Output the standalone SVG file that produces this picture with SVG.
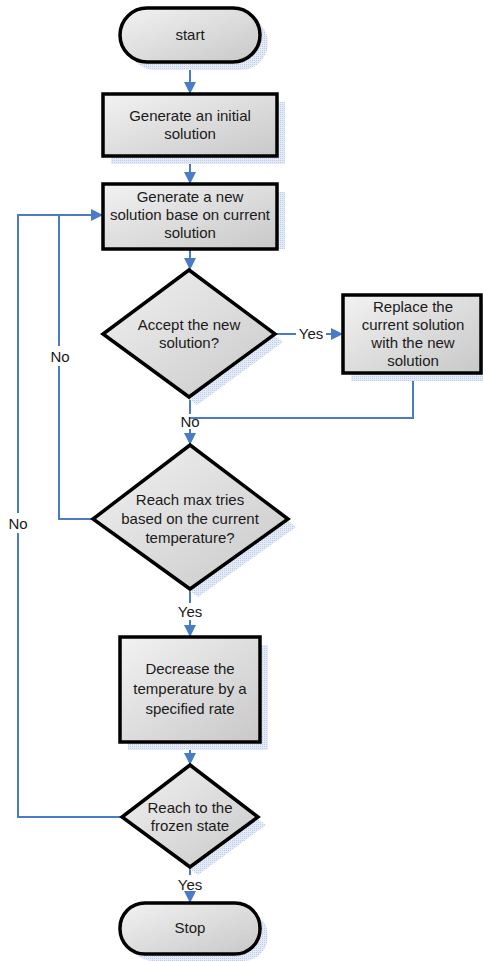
<svg xmlns="http://www.w3.org/2000/svg" width="483" height="961" viewBox="0 0 483 961">
<defs>
<linearGradient id="g" x1="0" y1="0" x2="1" y2="1">
<stop offset="0" stop-color="#f2f2f2"/>
<stop offset="1" stop-color="#c8c8c8"/>
</linearGradient>
<pattern id="sh" width="2" height="2" patternUnits="userSpaceOnUse">
<rect width="2" height="2" fill="#e6ecf7"/>
<rect width="1" height="1" fill="#bccbea"/>
</pattern>
<marker id="ar" markerWidth="12" markerHeight="12" refX="12" refY="6" orient="auto" markerUnits="userSpaceOnUse">
<path d="M0,0 L12,6 L0,12 z" fill="#4a7bc8"/>
</marker>
</defs>
<style>
.sh{fill:url(#sh);stroke:none}
.n{fill:url(#g);stroke:#000;stroke-width:3.5}
.t{font-family:"Liberation Sans",Arial,sans-serif;font-size:15px;fill:#1a1a1a;text-anchor:middle}
.c{fill:none;stroke:#4a7bc8;stroke-width:2}
.l{font-family:"Liberation Sans",Arial,sans-serif;font-size:15px;fill:#1a1a1a;text-anchor:middle}
</style>
<rect width="483" height="961" fill="#fff"/>

<g id="connectors">
<path class="c" d="M190,62 V94" marker-end="url(#ar)"/>
<path class="c" d="M190,156 V184" marker-end="url(#ar)"/>
<path class="c" d="M190,249 V270" marker-end="url(#ar)"/>
<path class="c" d="M275,334 H296"/>
<path class="c" d="M326,334 H343" marker-end="url(#ar)"/>
<path class="c" d="M413,373 V418 H190"/>
<path class="c" d="M190,397 V414"/>
<path class="c" d="M190,429 V445" marker-end="url(#ar)"/>
<path class="c" d="M93,519 H59 V215 H103" marker-end="url(#ar)"/>
<path class="c" d="M190,589 V603"/>
<path class="c" d="M190,620 V637" marker-end="url(#ar)"/>
<path class="c" d="M190,742 V765" marker-end="url(#ar)"/>
<path class="c" d="M122,817 H18 V215 H59"/>
<path class="c" d="M190,867 V875"/>
<path class="c" d="M190,892 V903" marker-end="url(#ar)"/>
<rect x="48" y="346" width="24" height="20" fill="#fff"/>
<rect x="6" y="513" width="24" height="20" fill="#fff"/>
<text class="l" x="60" y="362">No</text>
<text class="l" x="18" y="529">No</text>
<text class="l" x="311" y="339">Yes</text>
<text class="l" x="190" y="427">No</text>
<text class="l" x="190" y="617">Yes</text>
<text class="l" x="190" y="890">Yes</text>
</g>

<g id="start">
<rect class="sh" x="128" y="16" width="140" height="54" rx="27"/>
<rect class="n" x="120" y="8" width="140" height="54" rx="27"/>
<text class="t" x="190" y="40">start</text>
</g>

<g id="init">
<rect class="sh" x="111" y="102" width="174" height="62"/>
<rect class="n" x="103" y="94" width="174" height="62"/>
<text class="t" x="190" y="121">Generate an initial</text>
<text class="t" x="190" y="139">solution</text>
</g>

<g id="newsol">
<rect class="sh" x="111" y="192" width="174" height="57"/>
<rect class="n" x="103" y="184" width="174" height="65"/>
<text class="t" x="190" y="202">Generate a new</text>
<text class="t" x="190" y="220">solution base on current</text>
<text class="t" x="190" y="238">solution</text>
</g>

<g id="accept">
<polygon class="sh" points="197,278 283,342 197,405 111,342"/>
<polygon class="n" points="189,270 275,334 189,397 103,334"/>
<text class="t" x="189" y="330">Accept the new</text>
<text class="t" x="189" y="348">solution?</text>
</g>

<g id="replace">
<rect class="sh" x="351" y="303" width="132" height="78"/>
<rect class="n" x="343" y="295" width="138" height="78"/>
<text class="t" x="413" y="312">Replace the</text>
<text class="t" x="413" y="330">current solution</text>
<text class="t" x="413" y="348">with the new</text>
<text class="t" x="413" y="366">solution</text>
</g>

<g id="maxtries">
<polygon class="sh" points="198,453 296,527 198,597 101,527"/>
<polygon class="n" points="190,445 288,519 190,589 93,519"/>
<text class="t" x="190" y="505">Reach max tries</text>
<text class="t" x="190" y="524">based on the current</text>
<text class="t" x="190" y="543">temperature?</text>
</g>

<g id="decrease">
<rect class="sh" x="128" y="645" width="140" height="105"/>
<rect class="n" x="120" y="637" width="140" height="105"/>
<text class="t" x="190" y="674">Decrease the</text>
<text class="t" x="190" y="694">temperature by a</text>
<text class="t" x="190" y="714">specified rate</text>
</g>

<g id="frozen">
<polygon class="sh" points="198,773 266,825 198,875 130,825"/>
<polygon class="n" points="190,765 258,817 190,867 122,817"/>
<text class="t" x="190" y="813">Reach to the</text>
<text class="t" x="190" y="831">frozen state</text>
</g>

<g id="stop">
<rect class="sh" x="128" y="911" width="140" height="50" rx="25"/>
<rect class="n" x="120" y="903" width="140" height="51" rx="25"/>
<text class="t" x="190" y="933">Stop</text>
</g>
</svg>
